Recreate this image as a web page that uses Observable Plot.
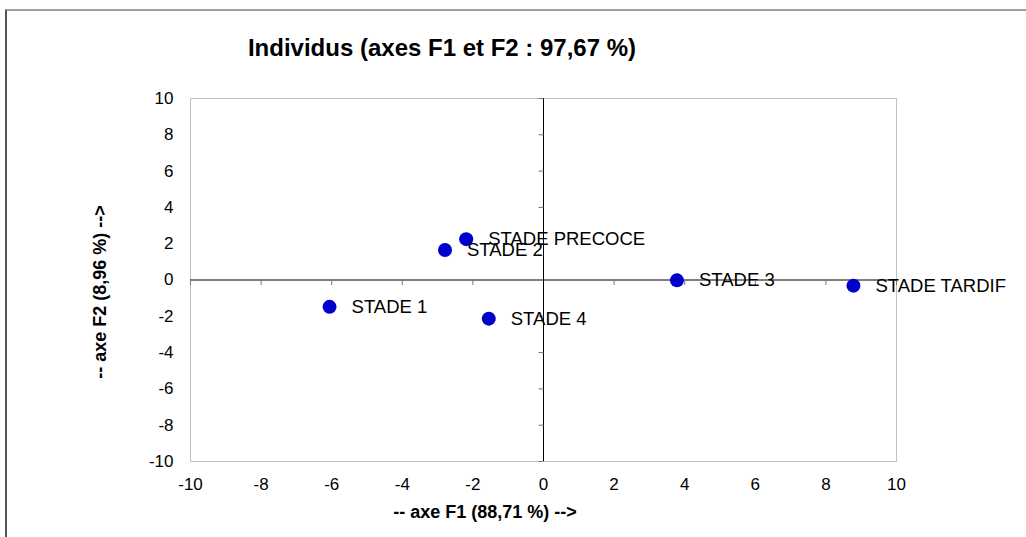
<!DOCTYPE html>
<html>
<head>
<meta charset="utf-8">
<script src="https://cdn.jsdelivr.net/npm/d3@7"></script>
<script src="https://cdn.jsdelivr.net/npm/@observablehq/plot@0.6"></script>
<style>
  html, body { margin: 0; padding: 0; background: #fff; }
  #wrap { position: relative; width: 1026px; height: 537px; overflow: hidden; font-family: "Liberation Sans", Arial, sans-serif; }
  #border { position: absolute; left: 5px; top: 9px; width: 1100px; height: 600px; border-top: 2px solid #a0a0a0; border-left: 2px solid #555; }
  .t { position: absolute; color: #000; font-weight: bold; white-space: nowrap; }
  #title { left: 442px; top: 48px; font-size: 24px; transform: translate(-50%, -50%); }
  #xlab { left: 485px; top: 512px; font-size: 18px; transform: translate(-50%, -50%); }
  #ylab { left: 100px; top: 292px; font-size: 18px; transform: translate(-50%, -50%) rotate(-90deg); }
  svg { position: absolute; left: 0; top: 0; }
</style>
</head>
<body>
<div id="wrap">
  <div id="border"></div>
</div>
<script>
const labels = ["STADE 1", "STADE 2", "STADE 3", "STADE 4", "STADE PRECOCE", "STADE TARDIF"];
const f1 = [-6.06, -2.79, 3.78, -1.55, -2.19, 8.78];
const f2 = [-1.48, 1.65, -0.02, -2.13, 2.25, -0.31];
const xTicks = [-10, -8, -6, -4, -2, 0, 2, 4, 6, 8, 10];
const yTicks = [-10, -8, -6, -4, -2, 0, 2, 4, 6, 8, 10];
const titleText = "Individus (axes F1 et F2 : 97,67 %)";
const xTitle = "-- axe F1 (88,71 %) -->";
const yTitle = "-- axe F2 (8,96 %) -->";

const points = labels.map((l, i) => ({label: l, x: f1[i], y: f2[i]}));

const tickDown = {draw(ctx) { ctx.moveTo(0, 0); ctx.lineTo(0, 5); }};
const tickLeft = {draw(ctx) { ctx.moveTo(0, 0); ctx.lineTo(-5, 0); }};

const chart = Plot.plot({
  width: 1026,
  height: 537,
  marginLeft: 190,
  marginRight: 130,
  marginTop: 98,
  marginBottom: 76,
  style: {fontFamily: "'Liberation Sans', Arial, sans-serif", background: "transparent", overflow: "visible"},
  x: {domain: [-10, 10], label: null},
  y: {domain: [-10, 10], label: null},
  marks: [
    Plot.frame({stroke: "#c0c0c0"}),
    Plot.axisX({ticks: xTicks, tickSize: 0, tickPadding: 16, fontSize: 17, label: null, tickFormat: d => String(d)}),
    Plot.axisY({ticks: yTicks, tickSize: 0, tickPadding: 17, fontSize: 17, label: null, tickFormat: d => String(d)}),
    Plot.ruleY([0], {stroke: "#000"}),
    Plot.ruleX([0], {stroke: "#000"}),
    Plot.dot(xTicks.filter(d => d !== 0), {x: d => d, y: () => 0, symbol: tickDown, stroke: "#777", strokeWidth: 1, r: 5}),
    Plot.dot(yTicks.filter(d => d !== 0), {x: () => 0, y: d => d, symbol: tickLeft, stroke: "#777", strokeWidth: 1, r: 5}),
    Plot.dot(points, {x: "x", y: "y", r: 7, fill: "#0000CC", stroke: "none"}),
    Plot.text(points, {x: "x", y: "y", text: "label", dx: 22, textAnchor: "start", fontSize: 18.5, fill: "#000"})
  ]
});

const wrap = document.getElementById("wrap");
wrap.appendChild(chart);
for (const [id, txt] of [["title", titleText], ["xlab", xTitle], ["ylab", yTitle]]) {
  const d = document.createElement("div");
  d.id = id; d.className = "t"; d.textContent = txt;
  wrap.appendChild(d);
}
</script>
</body>
</html>
